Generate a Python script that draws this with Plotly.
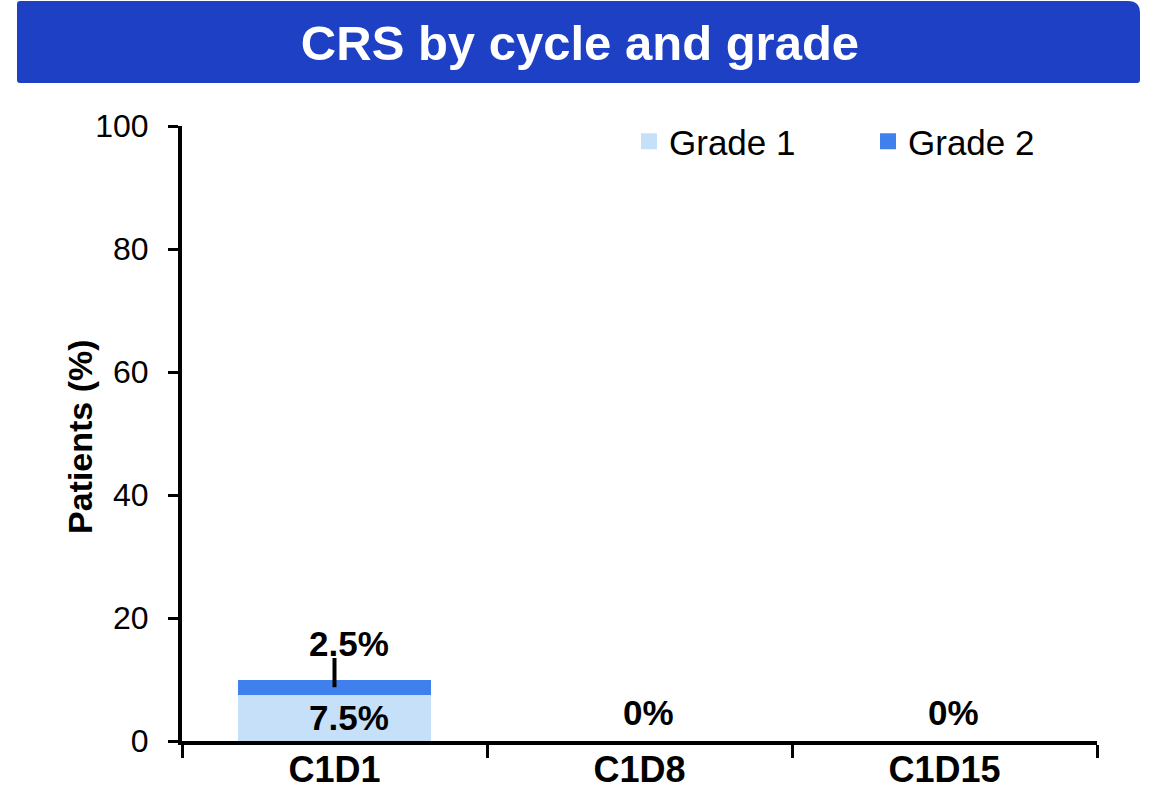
import plotly.graph_objects as go

# ---- data ----
categories = ["C1D1", "C1D8", "C1D15"]
grade1 = [7.5, 0, 0]
grade2 = [2.5, 0, 0]
series_names = ["Grade 1", "Grade 2"]
y_ticks = [0, 20, 40, 60, 80, 100]
title_text = "CRS by cycle and grade"
y_title = "Patients (%)"

# ---- style ----
W, H = 1154, 793
ML, MR, MT, MB = 182, 57, 126, 52
FONT = "Liberation Sans, Arial, sans-serif"
C1 = "#C5E0F8"
C2 = "#3F80EC"
BANNER = "#1E40C4"

fig = go.Figure()
fig.add_bar(x=categories, y=grade1, name=series_names[0], legendgroup="g1", showlegend=False,
            marker=dict(color=C1, line=dict(width=0)), width=0.63)
fig.add_bar(x=categories, y=grade2, name=series_names[1], legendgroup="g2", showlegend=False,
            marker=dict(color=C2, line=dict(width=0)), width=0.63)
# legend entries (square swatches)
for nm, col, grp in [(series_names[0], C1, "g1"), (series_names[1], C2, "g2")]:
    fig.add_scatter(x=[None], y=[None], mode="markers", name=nm, legendgroup=grp,
                    marker=dict(symbol="square", size=19, color=col, line=dict(width=0)),
                    hoverinfo="skip")

pw = W - ML - MR
ph = H - MT - MB


def px2paper(px, py):
    return (px - ML) / pw, (H - MB - py) / ph


def P(x, y):
    a, b = px2paper(x, y)
    return f"{a:.5f},{b:.5f}"


# rounded banner path (pixel geometry -> paper coords)
bx0, bx1, by0, by1 = 17, 1140, 1, 83
r_big, r_small = 12, 3
path = (
    f"M {P(bx0 + r_small, by0)} L {P(bx1 - r_big, by0)} Q {P(bx1, by0)} {P(bx1, by0 + r_big)} "
    f"L {P(bx1, by1 - r_small)} Q {P(bx1, by1)} {P(bx1 - r_small, by1)} "
    f"L {P(bx0 + r_small, by1)} Q {P(bx0, by1)} {P(bx0, by1 - r_small)} "
    f"L {P(bx0, by0 + r_small)} Q {P(bx0, by0)} {P(bx0 + r_small, by0)} Z"
)
fig.add_shape(type="path", path=path, xref="paper", yref="paper",
              fillcolor=BANNER, line=dict(width=0), layer="below")

# data labels
annots = []
for i, cat in enumerate(categories):
    total = grade1[i] + grade2[i]
    if total == 0:
        annots.append(dict(x=cat, y=0, text=f"<b>{total:g}%</b>", showarrow=False,
                           yanchor="bottom", yshift=7, xshift=9,
                           font=dict(size=35, color="black", family=FONT)))
    else:
        annots.append(dict(x=cat, y=grade1[i] / 2, text=f"<b>{grade1[i]:g}%</b>", showarrow=False,
                           yanchor="middle", xshift=14,
                           font=dict(size=35, color="black", family=FONT)))
        annots.append(dict(x=cat, y=total, text=f"<b>{grade2[i]:g}%</b>", showarrow=False,
                           yanchor="bottom", yshift=15, xshift=14,
                           font=dict(size=35, color="black", family=FONT)))
        fig.add_shape(type="line", xref="x", yref="y", x0=i, x1=i,
                      y0=grade1[i] + grade2[i] / 2, y1=total + 3.5,
                      line=dict(color="black", width=4))

# y-axis title as annotation (fixed pixel placement)
annots.append(dict(x=px2paper(80, 0)[0], y=px2paper(0, 437)[1], xref="paper", yref="paper",
                   text=f"<b>{y_title}</b>", textangle=-90, showarrow=False,
                   xanchor="center", yanchor="middle",
                   font=dict(size=34, color="black", family=FONT)))

fig.update_layout(
    width=W, height=H,
    margin=dict(l=ML, r=MR, t=MT, b=MB, autoexpand=False),
    paper_bgcolor="white", plot_bgcolor="white",
    barmode="stack",
    font=dict(family=FONT, color="black"),
    title=dict(text=f"<b>{title_text}</b>", x=580 / W, xanchor="center",
               y=1 - 43 / H, yanchor="middle", yref="container",
               font=dict(size=49, color="white", family=FONT)),
    showlegend=True,
    legend=dict(orientation="h", x=px2paper(629, 0)[0], xanchor="left",
                y=px2paper(0, 112)[1], yanchor="top",
                font=dict(size=35, color="black", family=FONT),
                traceorder="normal", bgcolor="rgba(0,0,0,0)", itemsizing="trace",
                entrywidth=194, entrywidthmode="pixels"),
    annotations=annots,
    xaxis=dict(
        type="category", range=[-0.5, len(categories) - 0.5], automargin=False,
        showline=True, linecolor="black", linewidth=4,
        ticks="outside", tickson="boundaries", ticklen=13, tickwidth=3, tickcolor="black",
        tickfont=dict(size=36, color="black", family=FONT),
        tickprefix="<b>", ticksuffix="</b>", ticklabelstandoff=-6,
        showgrid=False, zeroline=False,
    ),
    yaxis=dict(
        range=[0, 100], tickvals=y_ticks, automargin=False,
        showline=True, linecolor="black", linewidth=4,
        ticks="outside", ticklen=10, tickwidth=3, tickcolor="black",
        tickfont=dict(size=32, color="black", family=FONT),
        ticklabelstandoff=13,
        showgrid=False, zeroline=False,
    ),
)

fig.write_html("out.html", config={"displayModeBar": False},
               post_script="document.body.style.margin='0px';")
